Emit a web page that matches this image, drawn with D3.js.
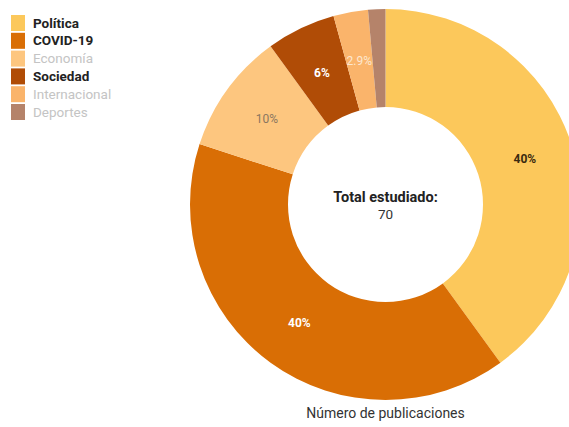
<!DOCTYPE html>
<html>
<head>
<meta charset="utf-8">
<script src="https://cdn.jsdelivr.net/npm/d3@7"></script>
<style>
  html, body { margin: 0; padding: 0; background: #fff; }
  svg { display: block; font-family: Roboto, "Noto Sans", sans-serif; }
</style>
</head>
<body>
<svg id="chart" width="569" height="427"></svg>
<script>
// Publications by topic
const categories = ["Política", "COVID-19", "Economía", "Sociedad", "Internacional", "Deportes"];
const counts = [28, 28, 7, 4, 2, 1];
const percentLabels = ["40%", "40%", "10%", "6%", "2.9%", ""];
const totalLabel = "Total estudiado:";
const axisTitle = "Número de publicaciones";

const colors = ["#fcc85b", "#d96e05", "#fdc67f", "#b04c06", "#fab46b", "#b5836a"];
const legendText = [
  { fill: "#222", weight: 700 },
  { fill: "#222", weight: 700 },
  { fill: "#c4c4c4", weight: 400 },
  { fill: "#222", weight: 700 },
  { fill: "#c4c4c4", weight: 400 },
  { fill: "#c4c4c4", weight: 400 }
];
const sliceText = [
  { fill: "#3a2a10", weight: 700 },
  { fill: "#ffffff", weight: 700 },
  { fill: "#8a7760", weight: 400 },
  { fill: "#ffffff", weight: 700 },
  { fill: "#fde7cf", weight: 400 },
  { fill: "#ffffff", weight: 400 }
];

const svg = d3.select("#chart");
const cx = 385.5, cy = 204.5, outerR = 195.5, innerR = 97.5;

const color = d3.scaleOrdinal().domain(categories).range(colors);
const pie = d3.pie().sort(null).value(d => d.value);
const arcs = pie(categories.map((c, i) => ({ cat: c, value: counts[i], label: percentLabels[i], i })));
const arc = d3.arc().innerRadius(innerR).outerRadius(outerR);

const g = svg.append("g").attr("transform", `translate(${cx},${cy})`);

g.selectAll("path.slice")
  .data(arcs)
  .join("path")
  .attr("class", "slice")
  .attr("d", arc)
  .attr("fill", d => color(d.data.cat));

g.selectAll("text.pct")
  .data(arcs)
  .join("text")
  .attr("class", "pct")
  .attr("transform", d => `translate(${arc.centroid(d)})`)
  .attr("text-anchor", "middle")
  .attr("dy", "0.35em")
  .attr("font-size", 12)
  .attr("fill", d => sliceText[d.data.i].fill)
  .attr("font-weight", d => sliceText[d.data.i].weight)
  .text(d => d.data.label);

// center total
const total = d3.sum(counts);
g.append("text")
  .attr("text-anchor", "middle")
  .attr("y", -2.5)
  .attr("font-size", 14.5)
  .attr("font-weight", 700)
  .attr("fill", "#222")
  .text(totalLabel);
g.append("text")
  .attr("text-anchor", "middle")
  .attr("y", 14.5)
  .attr("font-size", 13.5)
  .attr("fill", "#333")
  .text(total);

// legend
const legend = svg.append("g").attr("transform", "translate(11,15)");
const rowH = 17.8;
const items = legend.selectAll("g")
  .data(categories)
  .join("g")
  .attr("transform", (d, i) => `translate(0,${i * rowH})`);
items.append("rect")
  .attr("width", 14)
  .attr("height", 16)
  .attr("fill", d => color(d));
items.append("text")
  .attr("x", 22)
  .attr("y", 12.5)
  .attr("font-size", 13.5)
  .attr("fill", (d, i) => legendText[i].fill)
  .attr("font-weight", (d, i) => legendText[i].weight)
  .text(d => d);

// title under the ring
svg.append("text")
  .attr("x", cx)
  .attr("y", 418)
  .attr("text-anchor", "middle")
  .attr("font-size", 14)
  .attr("fill", "#333")
  .text(axisTitle);
</script>
</body>
</html>
